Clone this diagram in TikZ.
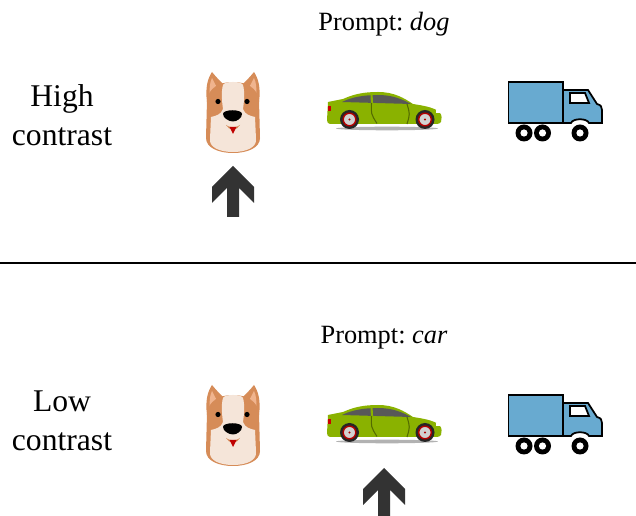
\documentclass[tikz,border=0pt]{standalone}
\usepackage{fontspec}
\setmainfont{Liberation Serif}
\usetikzlibrary{positioning}

\definecolor{dogbrown}{RGB}{214,140,88}
\definecolor{dogcream}{RGB}{245,229,217}
\definecolor{earpink}{RGB}{240,180,142}
\definecolor{cargreen}{RGB}{138,178,0}
\definecolor{carglass}{RGB}{88,88,88}
\definecolor{truckblue}{RGB}{104,170,208}
\definecolor{arrowgray}{RGB}{51,51,51}

\frenchspacing
\tikzset{
  rowlabel/.style={align=center, font=\fontsize{18}{22}\selectfont},
  prompt/.style={anchor=base, font=\fontsize{15}{18}\selectfont},
  % icons, drawn in pixel units around their centre
  pics/dog/.style={code={
    \fill[dogbrown] (-26,-10) .. controls (-28,-25) and (-25,-34) .. (-21,-40) .. controls (-17,-35) and (-12,-30) .. (-8,-26) -- cycle;
    \fill[dogbrown] (26,-10) .. controls (28,-25) and (25,-34) .. (21,-40) .. controls (17,-35) and (12,-30) .. (8,-26) -- cycle;
    \fill[earpink] (-23,-16) .. controls (-24,-24) and (-23,-30) .. (-21,-34) .. controls (-19,-30) and (-17,-26) .. (-15,-23) -- cycle;
    \fill[earpink] (23,-16) .. controls (24,-24) and (23,-30) .. (21,-34) .. controls (19,-30) and (17,-26) .. (15,-23) -- cycle;
    \fill[dogbrown] (0,-30) .. controls (14,-30) and (24,-24) .. (26,-12) -- (27,26) .. controls (27,36) and (14,41) .. (0,41)
      .. controls (-14,41) and (-27,36) .. (-27,26) -- (-26,-12) .. controls (-24,-24) and (-14,-30) .. (0,-30) -- cycle;
    \fill[dogcream] (0,-30) .. controls (6,-30) and (9,-29) .. (10,-27) .. controls (12,-20) and (11,-10) .. (10,-3)
      .. controls (12,3) and (18,4) .. (22,5) -- (23,27) .. controls (24,35) and (14,40) .. (0,40)
      .. controls (-14,40) and (-24,35) .. (-23,27) -- (-22,5) .. controls (-18,4) and (-12,3) .. (-10,-3)
      .. controls (-11,-10) and (-12,-20) .. (-10,-27) .. controls (-9,-29) and (-6,-30) .. (0,-30) -- cycle;
    \fill[black] (-15,-10.5) circle (2.6) (14,-10.5) circle (2.6);
    \fill[black] (-10,2) .. controls (-10,-3) and (9,-3) .. (9,2) .. controls (9,6) and (4,9.5) .. (0,9.5)
      .. controls (-4,9.5) and (-10,6) .. (-10,2) -- cycle;
    \fill[dogbrown] (-7,13) .. controls (-3,16) and (3,16) .. (7,13) .. controls (4,19) and (-4,19) .. (-7,13) -- cycle;
    \fill[red!75!black] (-3.5,15) -- (3.5,15) -- (0,22) -- cycle;
  }},
  pics/car/.style={code={
    \fill[gray!60] (3,18.5) ellipse (51 and 1.8);
    \fill[cargreen] (-56,-8) -- (-41,-11) .. controls (-30,-16) and (-20,-18) .. (-6,-18) .. controls (10,-18) and (20,-12) .. (29,-6)
      .. controls (42,-4) and (52,-2) .. (56,3) .. controls (58,5) and (58,9) .. (57,12) .. controls (56,13) and (55,14) .. (53,14)
      -- (-54,14) .. controls (-56,14) and (-57,12) .. (-57,10) -- cycle;
    \fill[carglass] (-42,-8) .. controls (-32,-13) and (-20,-15) .. (-6,-15) .. controls (8,-15) and (18,-11) .. (27,-6) -- cycle;
    \draw[cargreen, line width=1.2] (-12.5,-15.5) -- (-12,-7);
    \draw[black!40!cargreen, line width=0.6] (-12.5,-7) .. controls (-13,4) .. (-7,13.5) (23,-6) .. controls (26,4) .. (23,14);
    \fill[red!80!black] (-56.5,-4) rectangle (-53,1);
    \fill[white] (52,0) rectangle (55.5,3);
    \foreach \wx in {-34.5,41} {
      \fill[black!85] (\wx,9.5) circle (9.5);
      \fill[gray!35] (\wx,9.5) circle (6.3);
      \draw[red!70!black, line width=0.8] (\wx,9.5) circle (6.3);
      \fill[red!70!black] (\wx,9.5) circle (1.2);
    }
  }},
  pics/truck/.style={code={
    \draw[fill=truckblue, line width=1] (-48.5,-30) rectangle (6,11);
    \draw[fill=truckblue, line width=1] (6,-22) -- (31,-22) -- (40,-8) .. controls (44,-7) and (45,-5) .. (45,-2) -- (45,11)
      -- (32,11) .. controls (30,6) and (16,6) .. (14,11) -- (6,11) -- cycle;
    \draw[fill=white, line width=1] (13,-19) -- (28,-19) -- (32,-9) -- (13,-9) -- cycle;
    \foreach \wx in {-33,-14.5,23} {
      \fill[black] (\wx,21) circle (8.5);
      \fill[white] (\wx,21) circle (3.6);
    }
  }},
  pics/bigarrow/.style={code={
    \fill[arrowgray] (0,0) -- (21,21) -- (21,37) -- (6,22) -- (6,51) -- (-6,51) -- (-6,22) -- (-21,37) -- (-21,21) -- cycle;
  }},
}

\begin{document}
\begin{tikzpicture}[x=0.02cm, y=-0.02cm]
\useasboundingbox (0,0) rectangle (636,516);

%% high contrast row
\node[rowlabel] (hightxt) at (62,115) {High\\contrast};
\node[prompt] (promptdog) at (384,31) {Prompt: \textit{dog}};
\pic (dogA) at (233,112) {dog};
\pic (carA) at (384,110) {car};
\pic (truckA) at (557,112) {truck};
\pic (pickA) at (233,166) {bigarrow};

\draw[line width=1.1pt] (0,263) -- (636,263);

%% low contrast row
\node[rowlabel] (lowtxt) at (62,421) {Low\\contrast};
\node[prompt] (promptcar) at (384,344) {Prompt: \textit{car}};
\pic (dogB) at (233,425) {dog};
\pic (carB) at (384,423) {car};
\pic (truckB) at (557,425) {truck};
\pic (pickB) at (384,468) {bigarrow};

\end{tikzpicture}
\end{document}
